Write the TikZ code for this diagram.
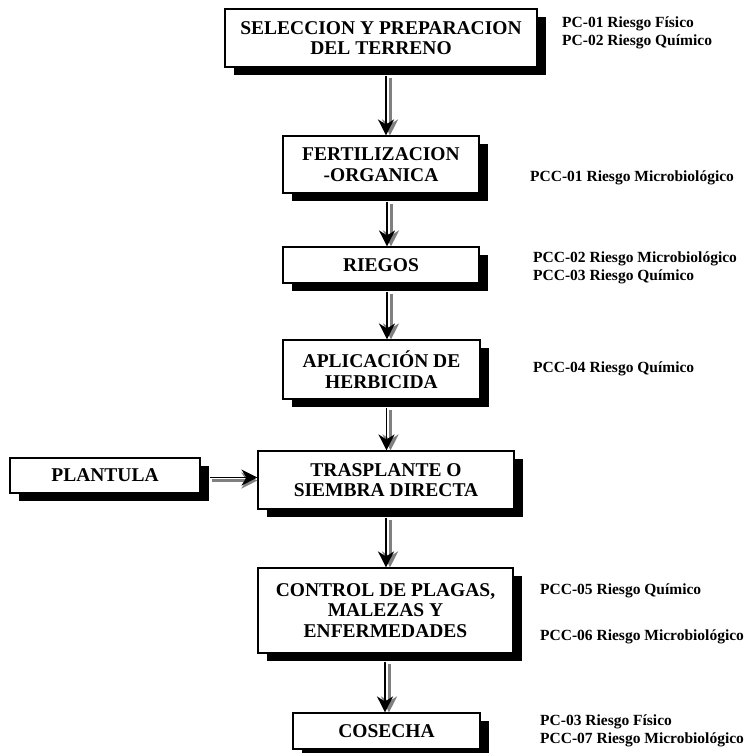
\documentclass[tikz,border=0pt]{standalone}
\usepackage{fontspec}
\setmainfont{Liberation Serif}
\usetikzlibrary{arrows.meta,shadows}

\begin{document}
\begin{tikzpicture}[x=1pt,y=-1pt,
  stepbox/.style n args={2}{draw, line width=1.1pt, fill=white, align=center,
    inner sep=0pt, minimum width=#1, minimum height=#2,
    font=\bfseries\fontsize{19.5}{20.5}\selectfont,
    general shadow={shadow xshift=9pt, shadow yshift=-8pt, fill=black}},
  risk/.style={anchor=west, inner sep=0pt, align=left,
    font=\bfseries\fontsize{15.5}{18}\selectfont},
  flowline/.style={line width=1.3pt, black,
    -{Stealth[length=16pt,width=16pt,inset=5pt]}},
  flowshade/.style={line width=3pt, black!50,
    -{Stealth[length=16pt,width=16pt,inset=5pt]}}]
\useasboundingbox (0,0) rectangle (747,753);

% process steps
\node[stepbox={312pt}{58pt}] (b1) at (381,38) {SELECCION Y PREPARACION\\DEL TERRENO};
\node[stepbox={196pt}{57pt}] (b2) at (381,164.5) {FERTILIZACION\\-ORGANICA};
\node[stepbox={196pt}{36pt}] (b3) at (381,265) {RIEGOS};
\node[stepbox={197pt}{59pt}] (b4) at (381.5,369.5) {APLICACIÓN DE\\HERBICIDA};
\node[stepbox={256pt}{58pt}] (b5) at (386,480) {TRASPLANTE O\\SIEMBRA DIRECTA};
\node[stepbox={190pt}{35pt}] (pl) at (105,475.5) {PLANTULA};
\node[stepbox={255pt}{85pt}] (b6) at (385.5,610.5) {CONTROL DE PLAGAS,\\MALEZAS Y\\ENFERMEDADES};
\node[stepbox={187pt}{36pt}] (b7) at (386.5,731) {COSECHA};

% hazard notes
\node[risk] (r1) at (562,33) {PC-01 Riesgo Físico\\PC-02 Riesgo Químico};
\node[risk] (r2) at (530,178) {PCC-01 Riesgo Microbiológico};
\node[risk] (r3) at (533,268) {PCC-02 Riesgo Microbiológico\\PCC-03 Riesgo Químico};
\node[risk] (r4) at (533,369) {PCC-04 Riesgo Químico};
\node[risk] (r5) at (540,591) {PCC-05 Riesgo Químico};
\node[risk] (r6) at (540,637) {PCC-06 Riesgo Microbiológico};
\node[risk] (r7) at (540,731) {PC-03 Riesgo Físico\\PCC-07 Riesgo Microbiológico};

% vertical connectors: grey shade beside a black arrow
\foreach \a/\b/\dx in {b1/b2/5, b2/b3/6, b3/b4/6, b4/b5/5, b5/b6/0, b6/b7/-0.5}{
  \draw[flowshade] ([xshift=\dx pt+4pt,yshift=-10pt]\a.south)
     -- ([xshift=\dx pt+4pt]\a.south |- \b.north);
  \draw[flowline] ([xshift=\dx pt,yshift=-8pt]\a.south)
     -- ([xshift=\dx pt]\a.south |- \b.north);
}

% side input
\draw[flowshade] ([xshift=11pt,yshift=-5pt]pl.east) -- ([yshift=-5pt]pl.east -| b5.west);
\draw[flowline] ([xshift=9pt,yshift=-2pt]pl.east) -- ([yshift=-2pt]pl.east -| b5.west);
\end{tikzpicture}
\end{document}
